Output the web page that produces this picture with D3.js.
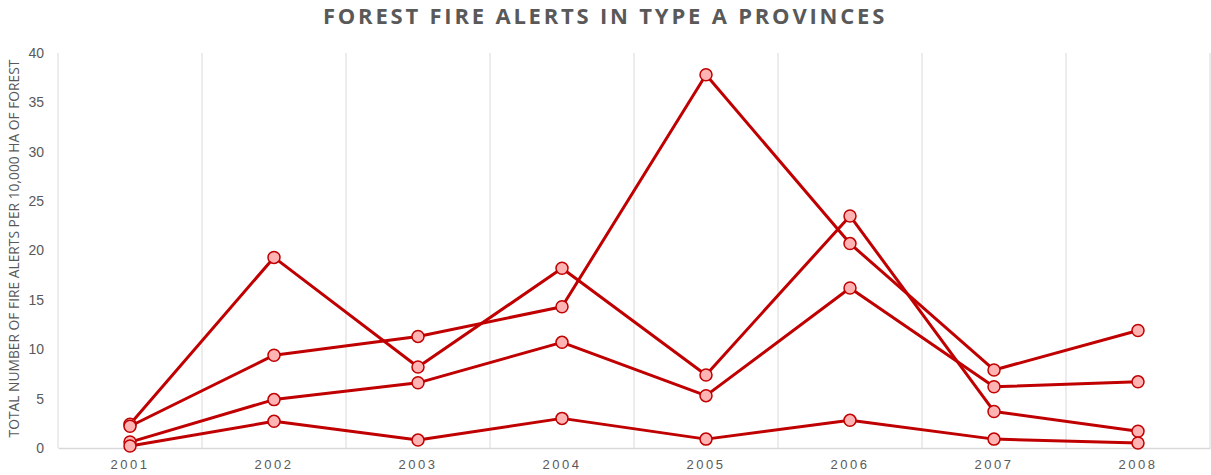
<!DOCTYPE html>
<html>
<head>
<meta charset="utf-8">
<script src="https://cdn.jsdelivr.net/npm/d3@7"></script>
<style>
  body { margin: 0; background: #fff; }
  svg { display: block; font-family: "Open Sans", "Liberation Sans", sans-serif; }
</style>
</head>
<body>
<svg></svg>
<script>
// data
const years = ['2001', '2002', '2003', '2004', '2005', '2006', '2007', '2008'];
const seriesA = [2.4, 19.3, 8.2, 18.2, 7.4, 23.5, 3.7, 1.7];
const seriesB = [2.2, 9.4, 11.3, 14.3, 37.8, 20.7, 7.9, 11.9];
const seriesC = [0.6, 4.9, 6.6, 10.7, 5.3, 16.2, 6.2, 6.7];
const seriesD = [0.2, 2.7, 0.8, 3.0, 0.9, 2.8, 0.9, 0.5];
const yTicks = [0, 5, 10, 15, 20, 25, 30, 35, 40];

const allSeries = [seriesA, seriesB, seriesC, seriesD];

// set the dimensions and margins of the graph
var margin = {top: 53, right: 1, bottom: 27, left: 58},
width = 1211 - margin.left - margin.right,
height = 475 - margin.top - margin.bottom;

const xScale = d3.scaleBand()
    .domain(years)
    .range([0, width]);

const yScale = d3.scaleLinear()
    .domain([0, 40])
    .range([height, 0]);

const container = d3.select('svg')
    .attr('width', 1211)
    .attr('height', 475);

const plot = container.append('g')
    .attr('transform', 'translate(' + margin.left + ',' + margin.top + ')');

// vertical gridlines at category boundaries
plot.append('g')
    .selectAll('line')
    .data(years.concat(['end']))
    .enter()
    .append('line')
    .attr('x1', (d, i) => i < years.length ? xScale(d) : width)
    .attr('x2', (d, i) => i < years.length ? xScale(d) : width)
    .attr('y1', 0)
    .attr('y2', height)
    .attr('stroke', '#d9d9d9')
    .attr('stroke-width', 1);

// x axis
const xAxis = plot.append('g')
    .attr('transform', 'translate(0,' + height + ')')
    .call(d3.axisBottom(xScale).tickSize(0).tickPadding(12));
xAxis.select('.domain').attr('stroke', '#d9d9d9').attr('stroke-width', 1.5);
xAxis.selectAll('text')
    .attr('fill', '#595959')
    .style('font-size', '13px')
    .style('letter-spacing', '2.5px');

// y axis
const yAxis = plot.append('g')
    .call(d3.axisLeft(yScale).tickValues(yTicks).tickSize(0).tickPadding(14));
yAxis.select('.domain').remove();
yAxis.selectAll('text')
    .attr('fill', '#595959')
    .style('font-size', '14px');

// y axis title
container.append('text')
    .attr('text-anchor', 'middle')
    .attr('transform', 'translate(19,' + (margin.top + height / 2 - 2) + ') rotate(-90)')
    .attr('fill', '#595959')
    .style('font-size', '13.8px')
    .text('TOTAL NUMBER OF FIRE ALERTS PER 10,000 HA OF FOREST');

// plot title
container.append('text')
    .attr('text-anchor', 'middle')
    .attr('x', 605)
    .attr('y', 24)
    .attr('fill', '#595959')
    .style('font-size', '22px')
    .style('font-weight', 'bold')
    .style('letter-spacing', '2.8px')
    .text('FOREST FIRE ALERTS IN TYPE A PROVINCES');

const line = d3.line()
    .x((d, i) => xScale(years[i]) + xScale.bandwidth() / 2)
    .y(d => yScale(d));

// add lines
plot.selectAll('.series-line')
    .data(allSeries)
    .enter()
    .append('path')
    .classed('series-line', true)
    .attr('d', line)
    .attr('fill', 'none')
    .attr('stroke', '#c00000')
    .attr('stroke-width', 3)
    .attr('stroke-linejoin', 'round');

// add points
allSeries.forEach(function(s){
    plot.append('g')
        .selectAll('circle')
        .data(s)
        .enter()
        .append('circle')
        .attr('r', 6)
        .attr('cx', (d, i) => xScale(years[i]) + xScale.bandwidth() / 2)
        .attr('cy', d => yScale(d))
        .attr('fill', '#ffb3b3')
        .attr('stroke', '#c00000')
        .attr('stroke-width', 1.5);
});
</script>
</body>
</html>
